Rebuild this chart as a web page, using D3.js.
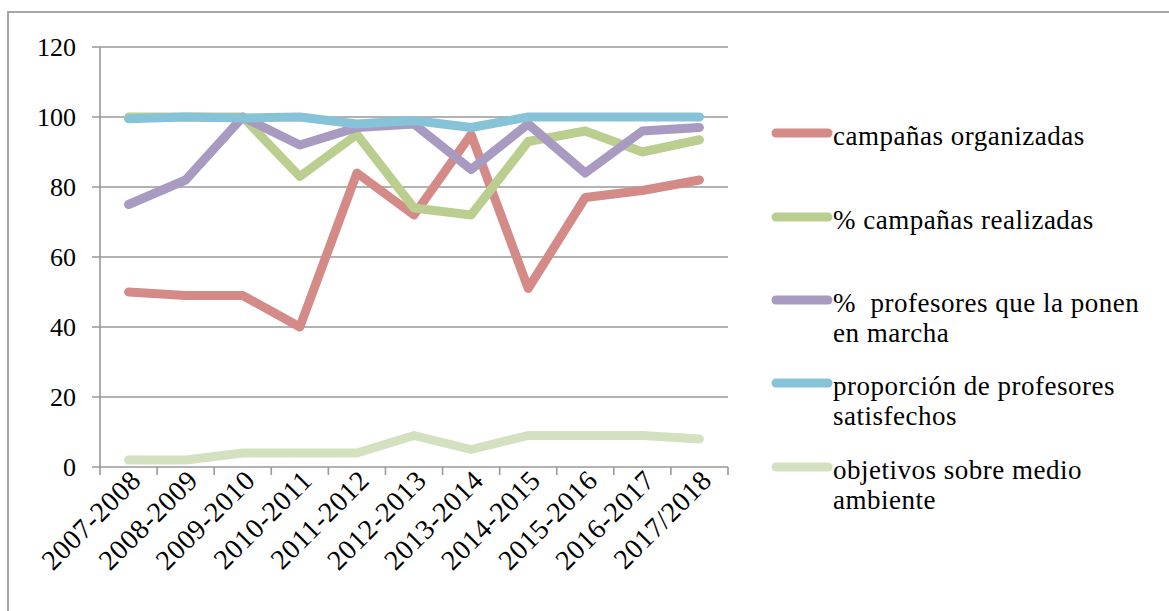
<!DOCTYPE html>
<html>
<head>
<meta charset="utf-8">
<script src="https://cdn.jsdelivr.net/npm/d3@7/dist/d3.min.js"></script>
<style>
html,body{margin:0;padding:0;background:#fff;}
svg{display:block;}
text{font-family:"Liberation Serif","Times New Roman",serif;fill:#000;}
</style>
</head>
<body>
<svg id="chart" width="1169" height="611"></svg>
<script>
const categories = ["2007-2008","2008-2009","2009-2010","2010-2011","2011-2012","2012-2013","2013-2014","2014-2015","2015-2016","2016-2017","2017/2018"];
const campanasOrganizadas = [50,49,49,40,84,72,95,51,77,79,82];
const campanasRealizadas = [100,100,100,83,95,74,72,93,96,90,93.5];
const profesoresPonen = [75,82,100,92,97,98,85,98,84,96,97];
const profesoresSatisfechos = [99.5,100,99.7,100,98,99,97,100,100,100,100];
const objetivosMedioAmbiente = [2,2,4,4,4,9,5,9,9,9,8];
const yTicks = [0,20,40,60,80,100,120];
const seriesNames = ["campañas organizadas","% campañas realizadas","%  profesores que la ponen en marcha","proporción de profesores satisfechos","objetivos sobre medio ambiente"];
const legendLines = [["campañas organizadas"],["% campañas realizadas"],["%  profesores que la ponen","en marcha"],["proporción de profesores","satisfechos"],["objetivos sobre medio","ambiente"]];
const colors = ["#d48b88","#bacf8f","#a89ac0","#87c3d8","#d3e1c1"];
const seriesValues = [campanasOrganizadas,campanasRealizadas,profesoresPonen,profesoresSatisfechos,objetivosMedioAmbiente];

(function(){
const svg = d3.select("#chart");
svg.append("rect").attr("x",8).attr("y",12).attr("width",1200).attr("height",650)
  .attr("fill","none").attr("stroke","#a6a6a6").attr("stroke-width",2);

const pLeft=100,pRight=728,pTop=47,pBottom=467;
const x = d3.scalePoint().domain(categories).range([pLeft,pRight]).padding(0.5);
const y = d3.scaleLinear().domain([0,120]).range([pBottom,pTop]);
const step = x.step();

svg.append("g").selectAll("line").data(yTicks).join("line")
  .attr("x1",pLeft-8).attr("x2",pRight).attr("y1",d=>y(d)).attr("y2",d=>y(d))
  .attr("stroke","#999").attr("stroke-width",1.6);
svg.append("line").attr("x1",pLeft).attr("x2",pLeft).attr("y1",pTop).attr("y2",pBottom)
  .attr("stroke","#999").attr("stroke-width",1.6);
const bounds = d3.range(categories.length+1).map(i=>pLeft+i*step);
svg.append("g").selectAll("line").data(bounds).join("line")
  .attr("x1",d=>d).attr("x2",d=>d).attr("y1",pBottom).attr("y2",pBottom+8)
  .attr("stroke","#999").attr("stroke-width",1.6);

svg.append("g").selectAll("text").data(yTicks).join("text")
  .attr("x",76).attr("y",d=>y(d)+9).attr("text-anchor","end")
  .attr("font-size",26).text(d=>d);

svg.append("g").selectAll("text").data(categories).join("text")
  .attr("text-anchor","end").attr("font-size",28).attr("letter-spacing",0.6)
  .attr("transform",d=>`translate(${x(d)+14},${pBottom+15}) rotate(-45)`)
  .text(d=>d);

const line = d3.line().x((d,i)=>x(categories[i])).y(d=>y(d));
seriesValues.forEach((vals,k)=>{
  svg.append("path").datum(vals).attr("d",line).attr("fill","none")
    .attr("stroke",colors[k]).attr("stroke-width",9)
    .attr("stroke-linejoin","round").attr("stroke-linecap","round");
});

const legY = [133,217,300,383,467];
legendLines.forEach((lines,k)=>{
  svg.append("line").attr("x1",776).attr("x2",828).attr("y1",legY[k]).attr("y2",legY[k])
    .attr("stroke",colors[k]).attr("stroke-width",9).attr("stroke-linecap","round");
  const t = svg.append("text").attr("x",833).attr("y",legY[k]+12).attr("font-size",27)
    .attr("letter-spacing",0.5).attr("xml:space","preserve");
  lines.forEach((s,j)=>{
    t.append("tspan").attr("x",833).attr("dy",j===0?0:30).text(s);
  });
});
})();
</script>
</body>
</html>
